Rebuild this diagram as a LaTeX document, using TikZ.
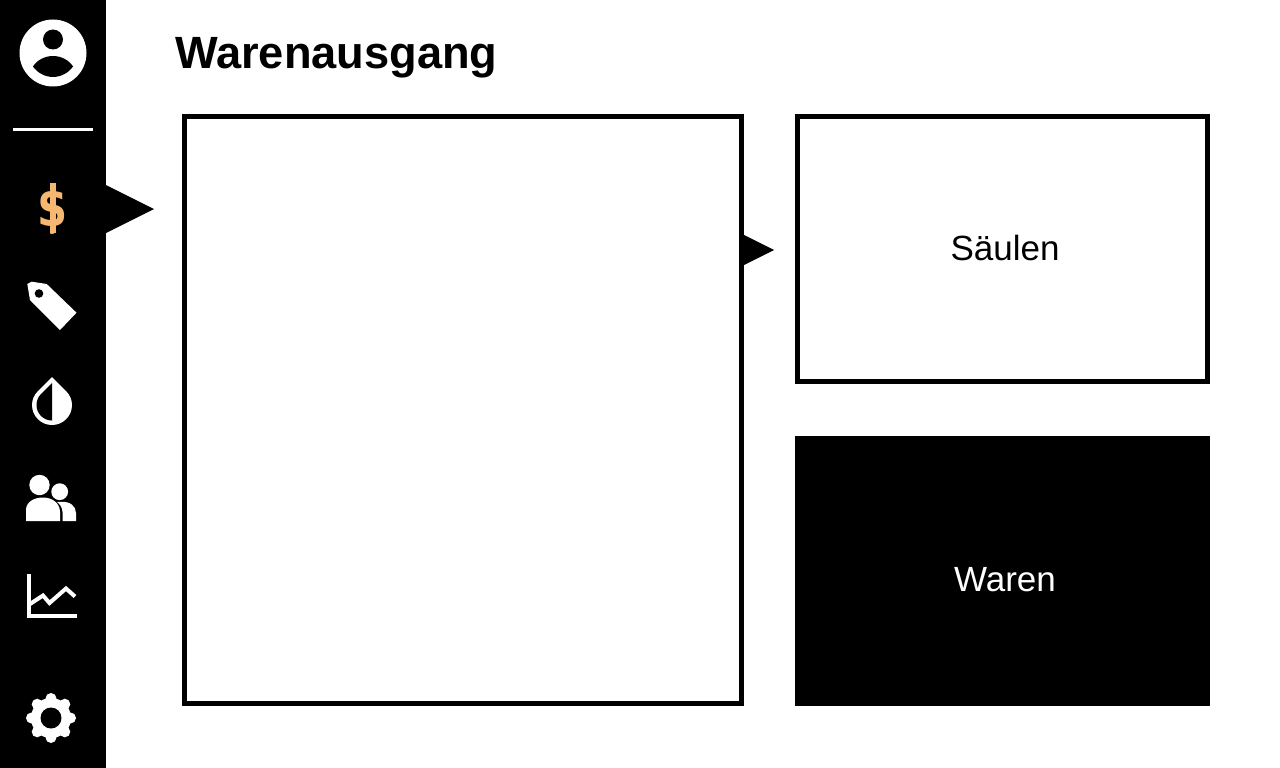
\documentclass[tikz,border=0pt]{standalone}
\usepackage{fontspec}
\setmainfont{Liberation Sans}
\newfontfamily\iconfont{DejaVu Sans}
\definecolor{dollar}{HTML}{F6B871}
\tikzset{
  px/.style={x=1pt,y=-1pt},
  panel/.style={draw=black,line width=5pt,fill=white,inner sep=0pt,outer sep=0pt},
  panelon/.style={panel,fill=black},
  ink/.style={fill=white,draw=none},
  cut/.style={fill=black,draw=none},
  pointer/.style={fill=black,draw=none},
  paneltext/.style={font=\fontsize{35}{40}\selectfont,inner sep=0pt}
}
\begin{document}
\begin{tikzpicture}[px]
\useasboundingbox (0,0) rectangle (1280,768);
\fill[white] (0,0) rectangle (1280,768);
\fill[black] (0,0) rectangle (106,768);
% avatar
\fill[ink] (53,53) circle (33.5);
\fill[cut] (53,39.5) circle (10);
\fill[cut] (33,66.5) .. controls (37,60) and (45,56) .. (53,56) .. controls (61,56) and (69,60) .. (73,66.5) .. controls (69,72.5) and (61,77) .. (53,77) .. controls (45,77) and (37,72.5) .. (33,66.5) -- cycle;
% divider
\fill[ink] (13,128) rectangle (93,131);
% dollar
\fill[dollar] (50,183) rectangle (56,233);
\node[text=dollar,font=\fontsize{54}{54}\selectfont\iconfont\bfseries,inner sep=0pt,xscale=0.8] (dollaricon) at (53,209.5) {\$};
\fill[pointer] (106,185) -- (154,209) -- (106,233) -- cycle;
% tag
\fill[ink] (27.3,284) -- (31.7,281.7) -- (46.7,284) -- (76.5,312.7) -- (60,330) -- (30,300) -- cycle;
\fill[cut] (39,293.5) circle (4.3);
% drop
\fill[ink] (52,377) -- (38,391) .. controls (34,395) and (32,400) .. (32,405) arc[start angle=180,end angle=0,radius=20] .. controls (72,400) and (70,395) .. (66,391) -- cycle;
\fill[cut] (52,383) -- (41,394) .. controls (38,397) and (36.5,401) .. (36.5,405) arc[start angle=180,end angle=90,radius=15.5] -- cycle;
% people
\fill[ink] (39.5,485) circle (10.2);
\fill[ink] (59.7,491.7) circle (8.4);
\fill[ink] (26,521) -- (26,510) .. controls (26,502) and (34,497.5) .. (43,497.5) .. controls (52,497.5) and (60,503) .. (60,512) -- (60,521) -- cycle;
\fill[ink] (61.5,501.8) .. controls (70,501.5) and (76,506) .. (76,513) -- (76,521) -- (62.5,521) -- (62.5,512) .. controls (62.5,508) and (60,504) .. (57,502) -- cycle;
% chart
\draw[white,line width=4pt] (29,574) -- (29,615.5) -- (77,615.5);
\draw[white,line width=4pt] (30,604) -- (43,595.5) -- (49.5,603) -- (66,588.5) -- (75,596.5);
% gear
\fill[ink] (51,718) circle (20);
\foreach \a in {0,45,...,315}{\fill[ink] (51,718) ++(\a:19.5) circle (5.5);}
\fill[cut] (51,718) circle (10.5);
% title
\node[anchor=base west,inner sep=0pt,font=\fontsize{45.2}{50}\selectfont\bfseries] (title) at (175,69) {Warenausgang};
% panels
\node[panel,minimum width=557pt,minimum height=587pt] (main) at (463,410) {};
\node[panel,minimum width=410pt,minimum height=265pt] (saeulen) at (1002.5,249) {};
\node[panelon,minimum width=410pt,minimum height=265pt] (waren) at (1002.5,571) {};
\node[paneltext] (saeulenlabel) at (1005,248) {Säulen};
\node[paneltext,text=white] (warenlabel) at (1005,580) {Waren};
\fill[pointer] (744,235) -- (774,250) -- (744,265) -- cycle;
\end{tikzpicture}
\end{document}
